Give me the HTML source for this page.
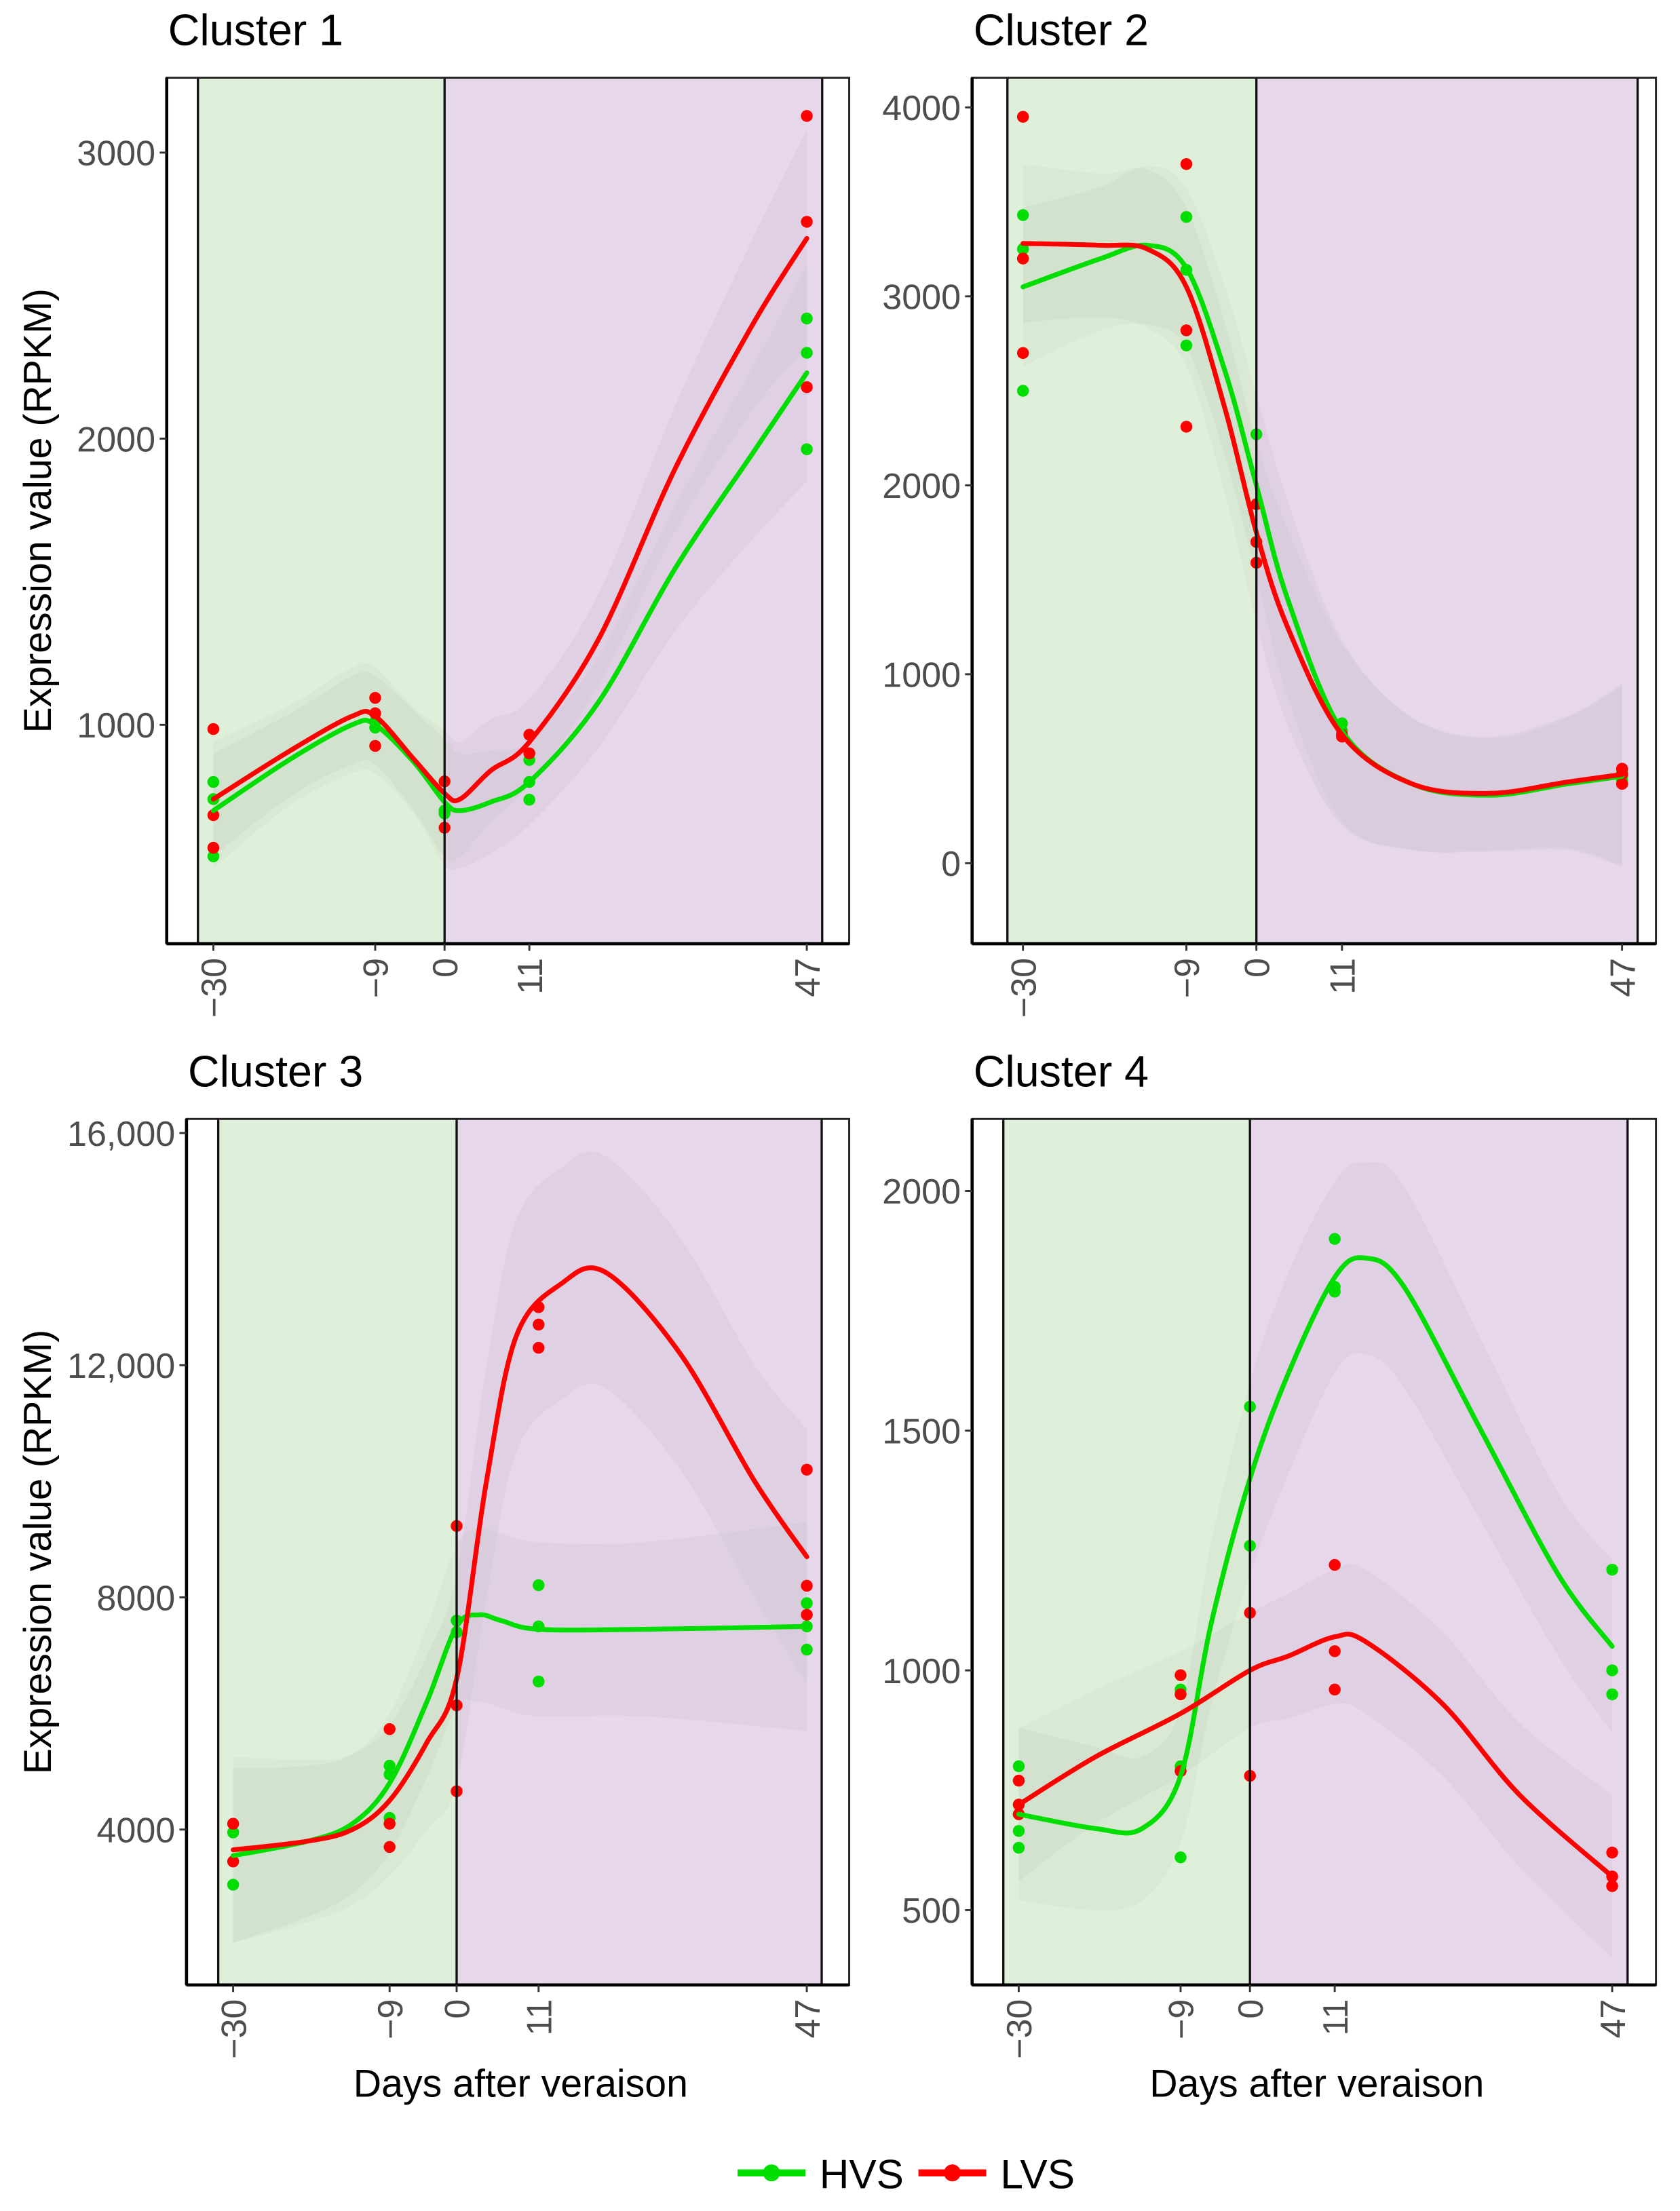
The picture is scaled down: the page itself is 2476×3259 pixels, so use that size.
<!DOCTYPE html>
<html><head><meta charset="utf-8"><style>
html,body{margin:0;padding:0;background:#fff}
svg{display:block}
text{font-family:"Liberation Sans",Arial,sans-serif}
</style></head><body>
<svg id="fig" width="2476" height="3259" viewBox="0 0 1189 1565" preserveAspectRatio="none" xmlns="http://www.w3.org/2000/svg"></svg>
<script>
// ---- shared data ----
const days = [-30, -9, 0, 11, 47];
const dayLabels = ["-30", "-9", "0", "11", "47"];
// Cluster 1
const c1Ticks = [1000, 2000, 3000];
const c1HvsPts = [[800,740,540],[1010,990],[700,690],[877,800,738],[2420,2300,1963]];
const c1LvsPts = [[985,684,570],[1094,1040,926],[802,640],[965,900],[3128,2758,2180]];
const c1CurveX = [-30,-20,-12,-9,-4,0,2,6,11,20,30,40,47];
const c1HvsCurve = [700,880,1000,1000,870,730,700,730,800,1080,1550,1950,2230];
const c1LvsCurve = [740,910,1030,1030,880,760,740,840,940,1300,1900,2400,2700];
const c1Se = [200,160,170,170,180,220,200,180,150,160,220,300,380];
// Cluster 2
const c2Ticks = [0, 1000, 2000, 3000, 4000];
const c2HvsPts = [[3430,3250,2500],[3420,3140,2740],[2270,1700],[740,700],[460,480,440]];
const c2LvsPts = [[3950,3200,2700],[3700,2820,2310],[1900,1700,1590],[680,670],[500,420,470]];
const c2CurveX = [-30,-20,-14,-9,-4,0,4,11,20,30,40,47];
const c2HvsCurve = [3050,3200,3270,3150,2600,2000,1400,700,420,360,420,460];
const c2LvsCurve = [3280,3270,3250,3050,2400,1750,1250,680,420,370,430,470];
const c2Se = [420,380,420,420,450,480,520,480,350,300,350,480];
// Cluster 3
const c3Ticks = [4000, 8000, 12000, 16000];
const c3TickLabels = ["4000", "8000", "12,000", "16,000"];
const c3HvsPts = [[3950,3050],[5100,4950,4200],[7600,7400],[8210,7500,6550],[7900,7500,7100]];
const c3LvsPts = [[4100,3450],[5730,4100,3700],[9230,6140,4660],[13000,12700,12300],[10200,8200,7700]];
const c3CurveX = [-30,-20,-14,-9,-4,0,3,6,11,25,47];
const c3HvsCurve = [3550,3800,4100,4800,6200,7500,7700,7600,7450,7450,7500];
const c3LvsCx = [-30,-20,-14,-9,-4,0,4,8,14,20,30,40,47];
const c3LvsCurve = [3650,3800,4000,4500,5500,6600,10000,12500,13400,13600,12200,10000,8700];
const c3HvsSe = [1500,1300,1200,1200,1300,1400,1500,1500,1500,1500,1800];
const c3LvsSe = [1600,1400,1300,1300,1500,1800,2000,2000,2000,2000,2000,2000,2200];
// Cluster 4
const c4Ticks = [500, 1000, 1500, 2000];
const c4HvsPts = [[800,700,665,630],[960,800,610],[1550,1260],[1900,1800,1790],[1210,1000,950]];
const c4LvsPts = [[770,720,700],[990,950,790],[1120,780],[1220,1040,960],[620,570,550]];
const c4HvsCx = [-30,-20,-14,-9,-5,0,5,11,15,20,30,40,47];
const c4HvsCurve = [700,670,670,780,1100,1400,1620,1820,1860,1800,1500,1200,1050];
const c4LvsCx = [-30,-20,-9,0,5,11,15,25,35,47];
const c4LvsCurve = [720,820,910,1000,1030,1070,1060,930,740,570];
const c4HvsSe = [180,170,150,140,170,200,210,200,200,210,190,170,180];
const c4LvsSe = [160,140,130,120,130,140,150,150,150,170];

const NS = "http://www.w3.org/2000/svg";
const svg = document.getElementById("fig");
function mk(tag, attrs, parent) {
  const e = document.createElementNS(NS, tag);
  for (const k in attrs) e.setAttribute(k, attrs[k]);
  (parent || svg).appendChild(e);
  return e;
}
function smoothPath(pts) {
  let d = "M" + pts[0][0] + "," + pts[0][1];
  for (let i = 0; i < pts.length - 1; i++) {
    const p0 = pts[Math.max(0, i - 1)], p1 = pts[i], p2 = pts[i + 1], p3 = pts[Math.min(pts.length - 1, i + 2)];
    const c1x = p1[0] + (p2[0] - p0[0]) / 6, c1y = p1[1] + (p2[1] - p0[1]) / 6;
    const c2x = p2[0] - (p3[0] - p1[0]) / 6, c2y = p2[1] - (p3[1] - p1[1]) / 6;
    d += " C" + c1x + "," + c1y + " " + c2x + "," + c2y + " " + p2[0] + "," + p2[1];
  }
  return d;
}

const panels = [
  {name:"cluster-1", title:"Cluster 1", L:118, R:601, T:55, B:668, x0:151, x1:571, vA:1000, yA:513, vB:3000, yB:108,
   ticks:c1Ticks, tickLabels:c1Ticks.map(String), ylab:true, xlab:false,
   hv:{pts:c1HvsPts, cx:c1CurveX, cy:c1HvsCurve, se:c1Se}, lv:{pts:c1LvsPts, cx:c1CurveX, cy:c1LvsCurve, se:c1Se}},
  {name:"cluster-2", title:"Cluster 2", L:688, R:1172, T:55, B:668, x0:724, x1:1148, vA:0, yA:611, vB:4000, yB:76,
   ticks:c2Ticks, tickLabels:c2Ticks.map(String), ylab:false, xlab:false,
   hv:{pts:c2HvsPts, cx:c2CurveX, cy:c2HvsCurve, se:c2Se}, lv:{pts:c2LvsPts, cx:c2CurveX, cy:c2LvsCurve, se:c2Se}},
  {name:"cluster-3", title:"Cluster 3", L:132, R:601, T:792, B:1405, x0:165, x1:571, vA:4000, yA:1295, vB:16000, yB:802,
   ticks:c3Ticks, tickLabels:c3TickLabels, ylab:true, xlab:true,
   hv:{pts:c3HvsPts, cx:c3CurveX, cy:c3HvsCurve, se:c3HvsSe}, lv:{pts:c3LvsPts, cx:c3LvsCx, cy:c3LvsCurve, se:c3LvsSe}},
  {name:"cluster-4", title:"Cluster 4", L:688, R:1172, T:792, B:1405, x0:721, x1:1141, vA:500, yA:1352, vB:2000, yB:843,
   ticks:c4Ticks, tickLabels:c4Ticks.map(String), ylab:false, xlab:true,
   hv:{pts:c4HvsPts, cx:c4HvsCx, cy:c4HvsCurve, se:c4HvsSe}, lv:{pts:c4LvsPts, cx:c4LvsCx, cy:c4LvsCurve, se:c4LvsSe}}
];

panels.forEach(p => {
  const g = mk("g", {});
  
  
  const xs = d => p.x0 + (d + 30) * (p.x1 - p.x0) / 77;
  const ys = v => p.yA + (v - p.vA) * (p.yB - p.yA) / (p.vB - p.vA);
  const xl = xs(-32), xm = xs(0), xr = xs(49);
  const clipId = "clip-" + p.name;
  const cp = mk("clipPath", {id: clipId}, g);
  mk("rect", {x:p.L, y:p.T, width:p.R-p.L, height:p.B-p.T}, cp);
  const bgG = mk("rect", {x:xl, y:p.T, width:xm-xl, height:p.B-p.T, fill:"#dff0da"}, g);
  
  
  const bgP = mk("rect", {x:xm, y:p.T, width:xr-xm, height:p.B-p.T, fill:"#e6d7ea"}, g);
  
  
  const cg = mk("g", {"clip-path":"url(#" + clipId + ")"}, g);
  [["hvs", p.hv, "#00dd00"], ["lvs", p.lv, "#ff0000"]].forEach(([key, s]) => {
    const up = s.cx.map((d, i) => [xs(d), ys(s.cy[i] + s.se[i])]);
    const lo = s.cx.map((d, i) => [xs(d), ys(s.cy[i] - s.se[i])]).reverse();
    const dUp = smoothPath(up);
    const dLo = smoothPath(lo).replace(/^M/, "L");
    const band = mk("path", {d: dUp + " " + dLo + " Z", fill:"rgba(140,140,140,0.07)", stroke:"none"}, cg);
    
    
  });
  [xl, xm, xr].forEach(x => {
    const ln = mk("line", {x1:x, x2:x, y1:p.T, y2:p.B, stroke:"#111", "stroke-width":1.6}, g);
    
    
  });
  [["hvs", p.hv, "#00dd00"], ["lvs", p.lv, "#ff0000"]].forEach(([key, s, col]) => {
    s.pts.forEach((arr, i) => arr.forEach(v => {
      const c = mk("circle", {cx: xs(days[i]), cy: ys(v), r: 4.2, fill: col}, cg);
      
      
    }));
  });
  [["hvs", p.hv, "#00dd00"], ["lvs", p.lv, "#ff0000"]].forEach(([key, s, col]) => {
    const pts = s.cx.map((d, i) => [xs(d), ys(s.cy[i])]);
    const ln = mk("path", {d: smoothPath(pts), fill:"none", stroke: col, "stroke-width": 3.4, "stroke-linecap":"round"}, cg);
    
    
  });
  const fr = mk("rect", {x:p.L, y:p.T, width:p.R-p.L, height:p.B-p.T, fill:"none", stroke:"#222", "stroke-width":1.4}, g);
  
  
  mk("line", {x1:p.L, x2:p.L, y1:p.T, y2:p.B, stroke:"#000", "stroke-width":2.2}, g);
  mk("line", {x1:p.L, x2:p.R, y1:p.B, y2:p.B, stroke:"#000", "stroke-width":2.2}, g);
  p.ticks.forEach((v, i) => {
    const y = ys(v);
    mk("line", {x1:p.L-5, x2:p.L, y1:y, y2:y, stroke:"#333", "stroke-width":1.4}, g);
    const t = mk("text", {x:p.L-8, y:y+9, "text-anchor":"end", "font-size":25, fill:"#4d4d4d"}, g);
    t.textContent = p.tickLabels[i];
    
    
  });
  days.forEach((d, i) => {
    const x = xs(d);
    mk("line", {x1:x, x2:x, y1:p.B, y2:p.B+5, stroke:"#333", "stroke-width":1.4}, g);
    const t = mk("text", {x:0, y:0, "text-anchor":"end", "font-size":25, fill:"#4d4d4d",
      transform:"translate(" + (x + 9) + "," + (p.B + 10) + ") rotate(-90)"}, g);
    t.textContent = dayLabels[i].replace("-", "\u2212");
    
    
  });
  const tt = mk("text", {x:p.L + 1, y:p.T - 23, "font-size":31, fill:"#000"}, g);
  tt.textContent = p.title;
  
  
  if (p.ylab) {
    const cy = (p.T + p.B) / 2;
    const yl = mk("text", {x:0, y:0, "text-anchor":"middle", "font-size":27.5, fill:"#000",
      transform:"translate(36," + cy + ") rotate(-90)"}, g);
    yl.textContent = "Expression value (RPKM)";
    
    
  }
  if (p.xlab) {
    const xt = mk("text", {x:(p.L + p.R) / 2 + 2, y:1484, "text-anchor":"middle", "font-size":27.5, fill:"#000"}, g);
    xt.textContent = "Days after veraison";
    
    
  }
});

// legend
const lg = mk("g", {});


[["HVS", "#00dd00", 522], ["LVS", "#ff0000", 650]].forEach(([lab, col, x]) => {
  const eg = mk("g", {}, lg);
  
  
  mk("line", {x1:x, x2:x+48, y1:1538, y2:1538, stroke:col, "stroke-width":5}, eg);
  mk("circle", {cx:x+24, cy:1538, r:6, fill:col}, eg);
  const t = mk("text", {x:x+58, y:1549, "font-size":29, fill:"#000"}, eg);
  t.textContent = lab;
});
</script>
</body></html>
